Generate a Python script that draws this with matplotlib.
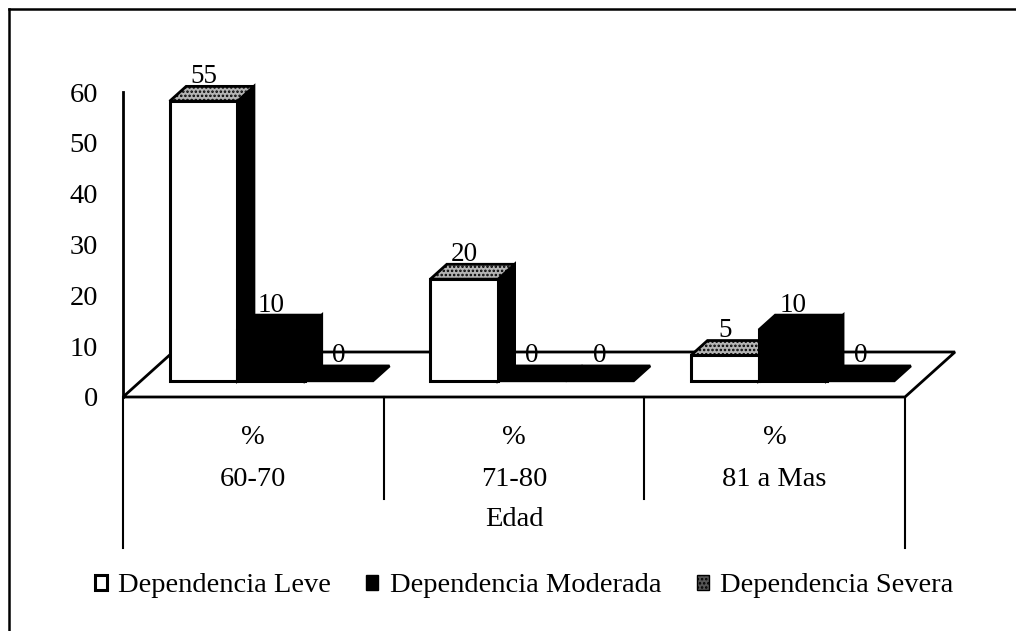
import matplotlib
matplotlib.use('Agg')
import matplotlib.pyplot as plt
from matplotlib.patches import Polygon, Patch
from matplotlib.lines import Line2D

# datos del grafico
categorias = ['60-70', '71-80', '81 a Mas']
series = ['Dependencia Leve', 'Dependencia Moderada', 'Dependencia Severa']
leve = [55, 20, 5]
moderada = [10, 0, 10]
severa = [0, 0, 0]
valores = [leve, moderada, severa]
ticks_y = [0, 10, 20, 30, 40, 50, 60]

plt.rcParams['font.family'] = ['Liberation Serif', 'DejaVu Serif']
plt.rcParams['hatch.linewidth'] = 1.2

# colores de cada serie: frente, costado, tapa
colores = [
    ('white', 'black', '#b4b4b4'),
    ('black', 'black', 'black'),
    ('#3c3c3c', 'black', 'black'),
]

fig = plt.figure(figsize=(10.16, 6.31), dpi=100)
ax = fig.add_axes([123 / 1016, 1 - 397 / 631, 782 / 1016, 305 / 631])
ax.set_xlim(0, 3)
ax.set_ylim(0, 60)
ax.patch.set_visible(False)
for s in ax.spines.values():
    s.set_visible(False)
ax.set_xticks([])
ax.set_yticks(ticks_y)
ax.tick_params(axis='y', length=0, pad=18, labelsize=20.5)

# profundidad del piso (en unidades de datos)
DX = 50 / (782 / 3)
DY = 45 / (305 / 60)
f0, f1 = 0.36, 0.69
w = 0.26

# piso
piso = Polygon([(0, 0), (3, 0), (3 + DX, DY), (DX, DY)], closed=True,
               fc='white', ec='black', lw=2, clip_on=False, zorder=1)
ax.add_patch(piso)
ax.plot([0, 0], [0, 60], color='black', lw=2, clip_on=False, zorder=2)


def caja(x0, h, cols, z):
    fx = x0 + f0 * DX
    fy = f0 * DY
    ddx = (f1 - f0) * DX
    ddy = (f1 - f0) * DY
    frente = [(fx, fy), (fx + w, fy), (fx + w, fy + h), (fx, fy + h)]
    costado = [(fx + w, fy), (fx + w + ddx, fy + ddy), (fx + w + ddx, fy + h + ddy), (fx + w, fy + h)]
    tapa = [(fx, fy + h), (fx + w, fy + h), (fx + w + ddx, fy + h + ddy), (fx + ddx, fy + h + ddy)]
    if h > 0:
        ax.add_patch(Polygon(costado, fc=cols[1], ec='black', lw=2, clip_on=False, zorder=z))
        ax.add_patch(Polygon(frente, fc=cols[0], ec='black', lw=2.2, clip_on=False, zorder=z))
    hatch = '....' if cols[2] == '#b4b4b4' else None
    ax.add_patch(Polygon(tapa, fc=cols[2], ec='black', lw=2, hatch=hatch,
                         clip_on=False, zorder=z))
    return fx + w / 2, h + f1 * DY


z = 3
etiquetas = []
for i in range(len(categorias)):
    for j in range(len(series)):
        v = valores[j][i]
        x0 = i + 0.5 - 1.5 * w + j * w
        cx, cy = caja(x0, v, colores[j], z)
        z += 1
        etiquetas.append((cx, cy, v))

for cx, cy, v in etiquetas:
    ax.annotate(str(v), xy=(cx, cy), xytext=(0, 10), textcoords='offset pixels',
                ha='center', va='center', fontsize=19.5, zorder=50,
                annotation_clip=False)

# tabla de categorias bajo el piso
tr = ax.get_xaxis_transform()
def fy_px(py):
    return (397 - py) / 305

for x in [0, 3]:
    ax.plot([x, x], [0, fy_px(548)], transform=tr, color='black', lw=1.5, clip_on=False)
for x in [1, 2]:
    ax.plot([x, x], [0, fy_px(499)], transform=tr, color='black', lw=1.5, clip_on=False)
for i, c in enumerate(categorias):
    ax.text(i + 0.5, fy_px(437), '%', transform=tr, ha='center', va='center', fontsize=20.5)
    ax.text(i + 0.5, fy_px(480), c, transform=tr, ha='center', va='center', fontsize=20.5)
ax.text(1.5, fy_px(519), 'Edad', transform=tr, ha='center', va='center', fontsize=20.5)

# leyenda
handles = [
    Patch(fc='white', ec='black', lw=2.2),
    Patch(fc='black', ec='black', lw=1),
    Patch(fc='#555555', ec='black', lw=1, hatch='....'),
]
fig.legend(handles, series, loc='center', bbox_to_anchor=(524 / 1016, 1 - 586 / 631),
           ncol=3, frameon=False, fontsize=20.5, handlelength=0.42, handleheight=0.4,
           handletextpad=0.4, columnspacing=1.25, borderpad=0)

# marco
fig.add_artist(Line2D([9 / 1016, 9 / 1016], [0, 1 - 9 / 631], transform=fig.transFigure,
                      color='black', lw=1.8))
fig.add_artist(Line2D([9 / 1016, 1], [1 - 9 / 631, 1 - 9 / 631], transform=fig.transFigure,
                      color='black', lw=1.8))

fig.savefig('out.png', dpi=100)
